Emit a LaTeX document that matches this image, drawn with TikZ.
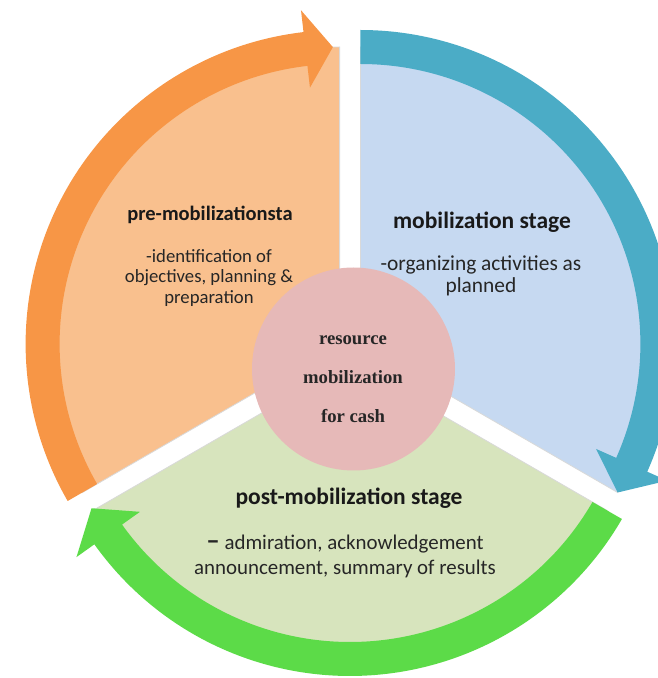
\documentclass[tikz,border=0pt]{standalone}
\usepackage{fontspec}
\setmainfont{Carlito}
\newfontfamily\hubfont{Liberation Serif}

\definecolor{prearrow}{HTML}{F79646}
\definecolor{prefill}{HTML}{F9C08E}
\definecolor{mobarrow}{HTML}{4BACC6}
\definecolor{mobfill}{HTML}{C6D9F1}
\definecolor{postarrow}{HTML}{5CDB48}
\definecolor{postfill}{HTML}{D7E4BD}
\definecolor{hubfill}{HTML}{E6B9B8}

% sector of the pie: start angle, end angle, colour
\newcommand{\stagesector}[3]{%
  \filldraw[fill=#3, draw=black!15, line width=0.8] (0,0) -- (#1:297)
    arc[start angle=#1, end angle=#2, radius=297] -- cycle;}
% curved arrow: tail angle, head base angle, tip angle, colour
\newcommand{\stagearrow}[4]{%
  \fill[#4] (#1:280) arc[start angle=#1, end angle=#2, radius=280]
    -- (#2:258) -- (#3:297) -- (#2:336) -- (#2:314)
    arc[start angle=#2, end angle=#1, radius=314] -- cycle;}

\begin{document}
\begin{tikzpicture}[x=1pt, y=1pt,
    stagetitle/.style={font=\bfseries\fontsize{23.5}{27}\selectfont, text=black!90},
    stagebody/.style={align=center, text=black!85},
    hubtext/.style={align=center, font=\hubfont\bfseries\fontsize{18.7}{39}\selectfont, text=black!85}]
\useasboundingbox (0,0) rectangle (658,678);

% the three sectors
\begin{scope}[shift={(339.6,334)}] \stagesector{210}{90}{prefill} \end{scope}
\begin{scope}[shift={(360.4,334)}] \stagesector{90}{-30}{mobfill} \end{scope}
\begin{scope}[shift={(350,316)}] \stagesector{-30}{-150}{postfill} \end{scope}

% the three arrows
\begin{scope}[shift={(339.6,334)}] \stagearrow{210}{96.6}{91.3}{prearrow} \end{scope}
\begin{scope}[shift={(360.4,334)}] \stagearrow{90}{-24}{-30}{mobarrow} \end{scope}
\begin{scope}[shift={(350,316)}] \stagearrow{-30}{-144.5}{-150.5}{postarrow} \end{scope}

\node[circle, fill=hubfill, minimum size=203] (hub) at (353.5,309) {};
\node[hubtext] (hubname) at (353,299) {resource\\mobilization\\for cash};

\node[stagetitle, font=\bfseries\fontsize{20.5}{24}\selectfont] (pretitle) at (210,463) {pre-mobilizationsta};
\node[stagebody, font=\fontsize{18.7}{20.5}\selectfont] (prebody) at (209,400) {-identification of\\objectives, planning \&\\preparation};

\node[stagetitle] (mobtitle) at (482,456) {mobilization stage};
\node[stagebody, font=\fontsize{21.4}{22}\selectfont] (mobbody) at (481,402) {-organizing activities as\\planned};

\node[stagetitle] (posttitle) at (349,180) {post-mobilization stage};
\node[stagebody, font=\fontsize{20.9}{25}\selectfont] (postbody) at (345,122) {{\bfseries\fontsize{27}{25}\selectfont –} admiration, acknowledgement\\announcement, summary of results};
\end{tikzpicture}
\end{document}
